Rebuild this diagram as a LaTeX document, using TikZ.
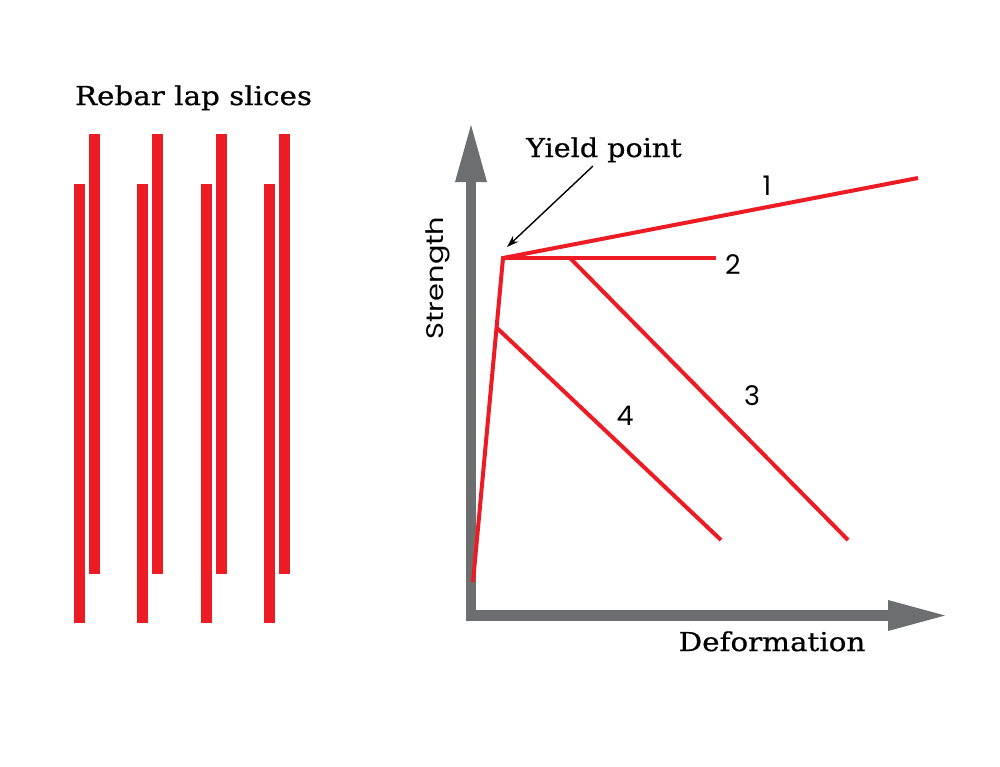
\documentclass[tikz,border=0pt]{standalone}
\usepackage{fontspec}
\setmainfont[FakeBold=0.6]{DejaVu Serif}
\newfontfamily\numfont{Poppins}
\usetikzlibrary{arrows.meta}
\definecolor{rebarred}{HTML}{ED1C24}
\definecolor{axisgray}{HTML}{6D6E70}
\newcommand{\stretchtext}[2]{\scalebox{#1}[1]{#2}}
\tikzset{
  bar/.style={fill=rebarred},
  curve/.style={draw=rebarred,line width=4pt,line cap=butt,line join=miter},
  axisline/.style={draw=axisgray,line width=10.5pt,line join=miter},
  axishead/.style={fill=axisgray},
  lbl/.style={font=\fontsize{26}{30}\selectfont,inner sep=0pt},
  numlbl/.style={font=\numfont\fontsize{27}{30}\selectfont,inner sep=0pt},
  vlbl/.style={font=\numfont\fontsize{24}{28}\selectfont,inner sep=0pt},
}
\begin{document}
\begin{tikzpicture}[x=1pt,y=-1pt]
\useasboundingbox (0,0) rectangle (1000,766);
% rebar bars
\foreach \i in {0,1,2,3}{
  \fill[bar] ({74+63.4*\i},184) rectangle ({85+63.4*\i},623);
  \fill[bar] ({89+63.4*\i},134) rectangle ({100+63.4*\i},574);
}
\node[lbl,anchor=base] (title) at (193.5,105) {\stretchtext{1.13}{Rebar lap slices}};
% axes
\coordinate (ytop) at (471,182);
\coordinate (origin) at (471,615.5);
\coordinate (xend) at (888,615.5);
\draw[axisline] (ytop) -- (origin) -- (xend);
\fill[axishead] (455,182) -- (471,125) -- (487,182) -- cycle;
\fill[axishead] (888,600) -- (945,615.5) -- (888,631) -- cycle;
\node[vlbl,rotate=90,anchor=base] (ylab) at (443,278) {\stretchtext{1.2}{Strength}};
\node[lbl,anchor=base] (xlab) at (772,651) {\stretchtext{1.13}{Deformation}};
% curves
\coordinate (start) at (473,582);
\coordinate (yield) at (503,258);
\coordinate (c1end) at (918,178);
\coordinate (c2end) at (716,258);
\coordinate (c3start) at (570,258);
\coordinate (c3end) at (848,540);
\coordinate (c4start) at (497,328);
\coordinate (c4end) at (721,540);
\draw[curve] (start) -- (yield) -- (c1end);
\draw[curve] (yield) -- (c2end);
\draw[curve] (c3start) -- (c3end);
\draw[curve] (c4start) -- (c4end);
\node[numlbl] (n1) at (767,186) {1};
\node[numlbl] (n2) at (733,265) {2};
\node[numlbl] (n3) at (752,396) {3};
\node[numlbl] (n4) at (625,416) {4};
% yield point label
\node[lbl,anchor=base] (yl) at (604,157) {\stretchtext{1.1}{Yield point}};
\coordinate (arrstart) at (593,166);
\coordinate (arrtip) at (507,247);
\draw[line width=1.4pt,-{Stealth[length=12pt,width=8pt]}] (arrstart) -- (arrtip);
\end{tikzpicture}
\end{document}
